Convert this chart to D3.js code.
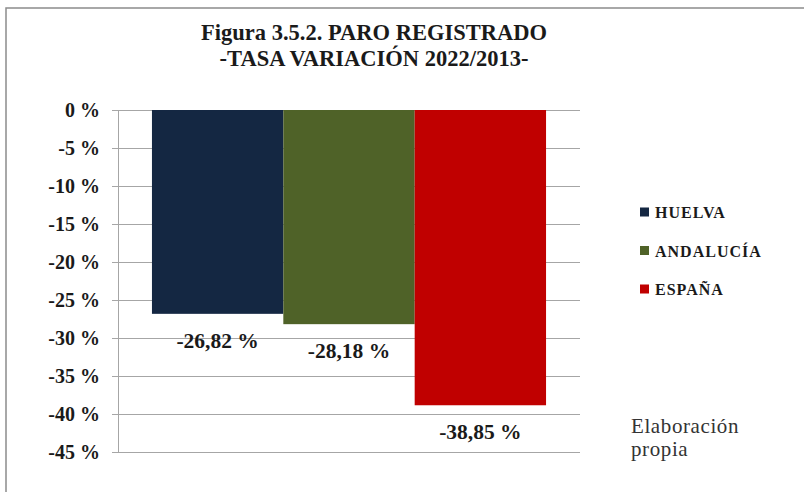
<!DOCTYPE html>
<html>
<head>
<meta charset="utf-8">
<script src="https://cdn.jsdelivr.net/npm/d3@7"></script>
<style>
  body { margin: 0; background: #fff; }
  svg text { font-family: "Liberation Serif", "DejaVu Serif", serif; }
</style>
</head>
<body>
<div id="chart"></div>
<script>
// datos de la figura
const series = ['HUELVA', 'ANDALUCÍA', 'ESPAÑA'];
const values = [-26.82, -28.18, -38.85];
const colors = ['#142742', '#4f6228', '#c00000'];
const yTicks = [0, -5, -10, -15, -20, -25, -30, -35, -40, -45];
const titleLines = ['Figura 3.5.2. PARO REGISTRADO', '-TASA VARIACIÓN 2022/2013-'];
const noteLines = ['Elaboración', 'propia'];

const width = 804, height = 492;
const plot = { left: 118, right: 580, top: 110, bottom: 452 };

const svg = d3.select('#chart').append('svg')
  .attr('width', width)
  .attr('height', height);

// marco exterior
svg.append('rect')
  .attr('x', 6).attr('y', 8)
  .attr('width', width + 10).attr('height', height + 10)
  .attr('fill', 'none')
  .attr('stroke', '#8c8c8c')
  .attr('stroke-width', 1.5);

// título
svg.append('g')
  .selectAll('text')
  .data(titleLines)
  .join('text')
  .attr('x', 374)
  .attr('y', (d, i) => 40 + i * 26)
  .attr('text-anchor', 'middle')
  .attr('font-size', 22.5)
  .attr('font-weight', 'bold')
  .attr('fill', '#1a1a1a')
  .text(d => d);

// escalas
const y = d3.scaleLinear().domain([0, -45]).range([plot.top, plot.bottom]);
const inner = (plot.right - plot.left) * 0.853;
const x = d3.scaleBand()
  .domain(series)
  .range([(plot.left + plot.right - inner) / 2, (plot.left + plot.right + inner) / 2])
  .padding(0);

// rejilla
svg.append('g')
  .selectAll('line')
  .data(yTicks)
  .join('line')
  .attr('x1', plot.left - 6)
  .attr('x2', plot.right)
  .attr('y1', d => y(d) + 0.5)
  .attr('y2', d => y(d) + 0.5)
  .attr('stroke', '#a6a6a6')
  .attr('stroke-width', 1);

// eje vertical
svg.append('line')
  .attr('x1', plot.left + 0.5).attr('x2', plot.left + 0.5)
  .attr('y1', plot.top).attr('y2', plot.bottom)
  .attr('stroke', '#a6a6a6');

// etiquetas del eje
svg.append('g')
  .selectAll('text')
  .data(yTicks)
  .join('text')
  .attr('x', 100)
  .attr('y', d => y(d) + 6.5)
  .attr('text-anchor', 'end')
  .attr('font-size', 20)
  .attr('font-weight', 'bold')
  .attr('fill', '#1a1a1a')
  .text(d => `${d} %`);

// barras
svg.append('g')
  .selectAll('rect')
  .data(values)
  .join('rect')
  .attr('x', (d, i) => x(series[i]))
  .attr('y', y(0))
  .attr('width', x.bandwidth())
  .attr('height', d => y(d) - y(0))
  .attr('fill', (d, i) => colors[i]);

// valores
const fmt = v => v.toFixed(2).replace('.', ',') + ' %';
svg.append('g')
  .selectAll('text')
  .data(values)
  .join('text')
  .attr('x', (d, i) => x(series[i]) + x.bandwidth() / 2)
  .attr('y', d => y(d) + 34)
  .attr('text-anchor', 'middle')
  .attr('font-size', 21.5)
  .attr('font-weight', 'bold')
  .attr('fill', '#1a1a1a')
  .text(d => fmt(d));

// leyenda
const legend = svg.append('g')
  .selectAll('g')
  .data(series)
  .join('g')
  .attr('transform', (d, i) => `translate(640, ${212 + i * 38.5})`);

legend.append('rect')
  .attr('x', 0).attr('y', -4.5)
  .attr('width', 9).attr('height', 9)
  .attr('fill', (d, i) => colors[i]);

legend.append('text')
  .attr('x', 15)
  .attr('y', 6)
  .attr('font-size', 16)
  .attr('font-weight', 'bold')
  .attr('letter-spacing', 1)
  .attr('fill', '#1a1a1a')
  .text(d => d);

// nota
svg.append('g')
  .selectAll('text')
  .data(noteLines)
  .join('text')
  .attr('x', 631)
  .attr('y', (d, i) => 433 + i * 23)
  .attr('font-size', 21)
  .attr('letter-spacing', 0.6)
  .attr('fill', '#333')
  .text(d => d);
</script>
</body>
</html>
